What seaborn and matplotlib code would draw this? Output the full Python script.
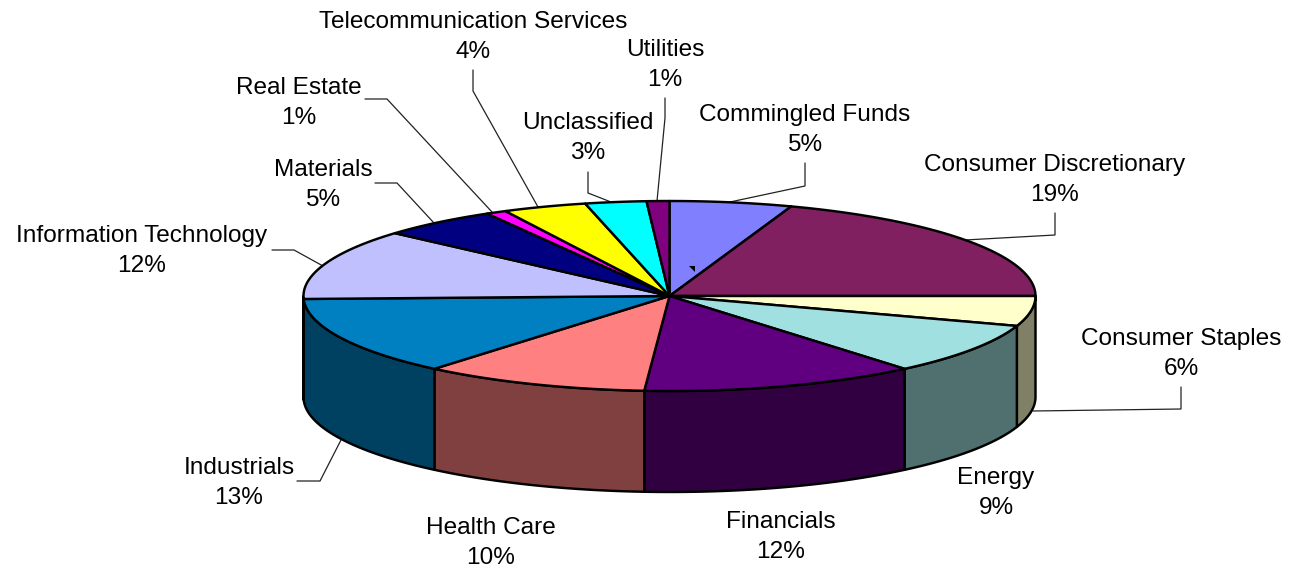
import numpy as np
import pandas as pd
import matplotlib
matplotlib.use("Agg")
import matplotlib.pyplot as plt
import seaborn as sns

# ---- data ----
categories = ["Commingled Funds", "Consumer Discretionary", "Consumer Staples", "Energy",
              "Financials", "Health Care", "Industrials", "Information Technology",
              "Materials", "Real Estate", "Telecommunication Services", "Unclassified",
              "Utilities"]
shares = [5.4, 19.6, 5.1, 8.8, 12.2, 10.0, 13.4, 12.0, 5.2, 0.9, 3.7, 2.7, 1.0]
shown_pct = [5, 19, 6, 9, 12, 10, 13, 12, 5, 1, 4, 3, 1]
colors = ["#8080FF", "#802060", "#FFFFCC", "#A0E0E0", "#600080", "#FF8080", "#0080C0",
          "#C0C0FF", "#000080", "#FF00FF", "#FFFF00", "#00FFFF", "#800080"]

# ---- layout (pixel space of the canvas) ----
CX, CY, RX, RY, DEPTH = 669.5, 296.0, 366.0, 95.0, 101.0
label_xy = {
    "Commingled Funds": (805, 130), "Consumer Discretionary": (1055, 180),
    "Consumer Staples": (1181, 354), "Energy": (996, 493), "Financials": (781, 537),
    "Health Care": (491, 543), "Industrials": (239, 483),
    "Information Technology": (142, 251), "Materials": (323, 185),
    "Real Estate": (299, 103), "Telecommunication Services": (473, 37),
    "Unclassified": (588, 138), "Utilities": (665, 65),
}
leaders = [
    [(805, 163), (805, 186), (730, 202)],
    [(1055, 213), (1055, 235), (965, 240)],
    [(1181, 387), (1181, 409), (1033, 411)],
    [(297, 481), (320, 481), (341, 440)],
    [(272, 250), (294, 250), (323, 266)],
    [(375, 183), (397, 183), (434, 223)],
    [(365, 99), (387, 99), (492, 212)],
    [(473, 70), (473, 91), (538, 207)],
    [(588, 172), (588, 193), (611, 202)],
    [(665, 98), (665, 118), (657, 201)],
]

sns.set_theme(style="white")
plt.rcParams["font.family"] = ["Liberation Sans", "DejaVu Sans"]

df = pd.DataFrame({"category": categories, "share": shares, "pct": shown_pct})
palette = sns.color_palette(colors)
df["end"] = df["share"].cumsum() / df["share"].sum() * 360.0
df["start"] = df["end"].shift(fill_value=0.0)

fig = plt.figure(figsize=(13.06, 5.69), dpi=100)
ax = fig.add_axes([0, 0, 1, 1])
ax.set_xlim(0, 1306)
ax.set_ylim(569, 0)
ax.axis("off")

EDGE = dict(edgecolor="black", linewidth=1.75, joinstyle="round")


def arc(a, b, dy=0.0):
    t = np.radians(np.linspace(a, b, max(int(abs(b - a) * 2), 2)))
    return CX + RX * np.sin(t), CY - RY * np.cos(t) + dy


# walls: only the front half of the rim (90..270 degrees) can be seen
for row, col in zip(df.itertuples(), palette):
    a, b = max(row.start, 90.0), min(row.end, 270.0)
    if b <= a:
        continue
    xt, yt = arc(a, b)
    xb, yb = arc(b, a, DEPTH)
    dark = tuple(c * 0.5 for c in col)
    ax.fill(np.r_[xt, xb], np.r_[yt, yb], facecolor=dark, zorder=2, **EDGE)

# top face
for row, col in zip(df.itertuples(), palette):
    xt, yt = arc(row.start, row.end)
    ax.fill(np.r_[CX, xt], np.r_[CY, yt], facecolor=col, zorder=3, **EDGE)

# small stray tick on the reference's first slice
ax.fill([689, 695, 695], [266, 266, 272], facecolor="black", edgecolor="none", zorder=4)

for pts in leaders:
    xs, ys = zip(*pts)
    ax.plot(xs, ys, color="#222222", lw=0.9, zorder=1, solid_joinstyle="miter")

for row in df.itertuples():
    x, y = label_xy[row.category]
    ax.text(x, y, f"{row.category}\n{row.pct}%", ha="center", va="center",
            fontsize=17.6, color="black", linespacing=1.5, zorder=5)

fig.savefig("out.png", dpi=100, facecolor="white")
